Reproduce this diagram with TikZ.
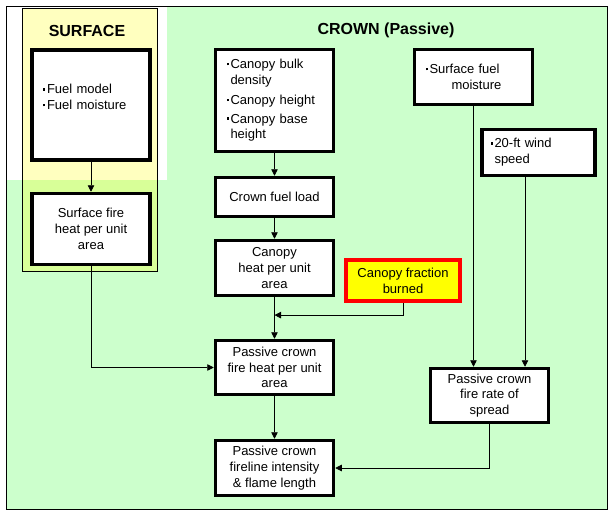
\documentclass[tikz,border=0pt]{standalone}
\usepackage{fontspec}
\setmainfont{Liberation Sans}
\usetikzlibrary{arrows.meta, calc}
\definecolor{crowngreen}{RGB}{204,255,204}
\definecolor{surfyellow}{RGB}{255,255,0}
\definecolor{flagred}{RGB}{255,0,0}
\newcommand{\bul}{\raisebox{3.3pt}{\rule{2.4pt}{2.4pt}}\hspace{1.6pt}}

\tikzset{
  box/.style={draw=black, line width=3.5pt, fill=white, minimum width=118pt,
              inner sep=0pt, align=center, font=\fontsize{13}{15.8}\selectfont},
  inbox/.style={box, align=left, text width=96pt},
  link/.style={-{Triangle[length=6.5pt,width=6.5pt]}, line width=0.8pt},
  paneltitle/.style={font=\fontsize{16}{16}\selectfont\bfseries},
}

\begin{document}
\begin{tikzpicture}[x=1pt, y=-1pt]
  \useasboundingbox (0,0) rectangle (612,516);

  % Panels
  \fill[crowngreen] (6,7) rectangle (607,509);
  \fill[white] (6,7) rectangle (167,180);
  \draw[fill=surfyellow, fill opacity=0.25, line width=0.8pt] (22,8) rectangle (157,271);
  \draw[line width=1pt] (6,7) rectangle (607,509);

  % Titles
  \node[paneltitle] (surftitle) at (87,31) {SURFACE};
  \node[paneltitle] (crowntitle) at (386,30) {CROWN (Passive)};

  % Surface column
  \node[inbox, minimum height=110pt] (fuel) at (91,105)
    {\bul Fuel model\\\bul Fuel moisture\\\mbox{}};
  \node[box, minimum height=71pt] (sfheat) at (91,229) {Surface fire\\heat per unit\\area};

  % Crown column
  \node[inbox, minimum height=102pt] (canopy) at (274.5,100.5)
    {\bul Canopy bulk\\\phantom{\bul}density\\[4pt]\bul Canopy height\\[3pt]\bul Canopy base\\\phantom{\bul}height};
  \node[box, minimum height=39pt] (crownload) at (274.5,197) {Crown fuel load};
  \node[box, minimum height=55pt] (canheat) at (274.5,268) {Canopy\\heat per unit\\area};
  \node[box, draw=flagred, fill=surfyellow, line width=4pt, minimum width=114pt,
        minimum height=41pt] (fraction) at (403,280.5) {Canopy fraction\\burned};
  \node[box, minimum height=54pt] (pcheat) at (274.5,367.5) {Passive crown\\fire heat per unit\\area};
  \node[box, minimum height=55pt] (pcint) at (274.5,468) {Passive crown\\fireline intensity\\\& flame length};

  % Spread column
  \node[inbox, minimum height=55pt] (sfmoist) at (473.5,77) {\bul Surface fuel\\\hspace*{26pt}moisture};
  \node[inbox, minimum width=113pt, minimum height=46pt] (wind) at (538.5,152.5)
    {\bul 20-ft wind\\\phantom{\bul}speed};
  \node[box, minimum height=54pt] (pcros) at (489.5,395.5) {Passive crown\\fire rate of\\spread};

  % Connectors
  \draw[link] (fuel) -- (sfheat);
  \draw[link] (sfheat.south) |- (pcheat.west);
  \draw[link] (canopy) -- (crownload);
  \draw[link] (crownload) -- (canheat);
  \draw[link] (canheat) -- (pcheat);
  \coordinate (join) at ($(canheat.south)!0.43!(pcheat.north)$);
  \draw[link] (fraction.south) |- (join);
  \draw[link] (pcheat) -- (pcint);
  \draw[link] (sfmoist.south) -- (sfmoist.south |- pcros.north);
  \draw[link] ([xshift=-13.5pt]wind.south) -- ([xshift=-13.5pt]wind.south |- pcros.north);
  \draw[link] (pcros.south) |- (pcint.east);
\end{tikzpicture}
\end{document}
